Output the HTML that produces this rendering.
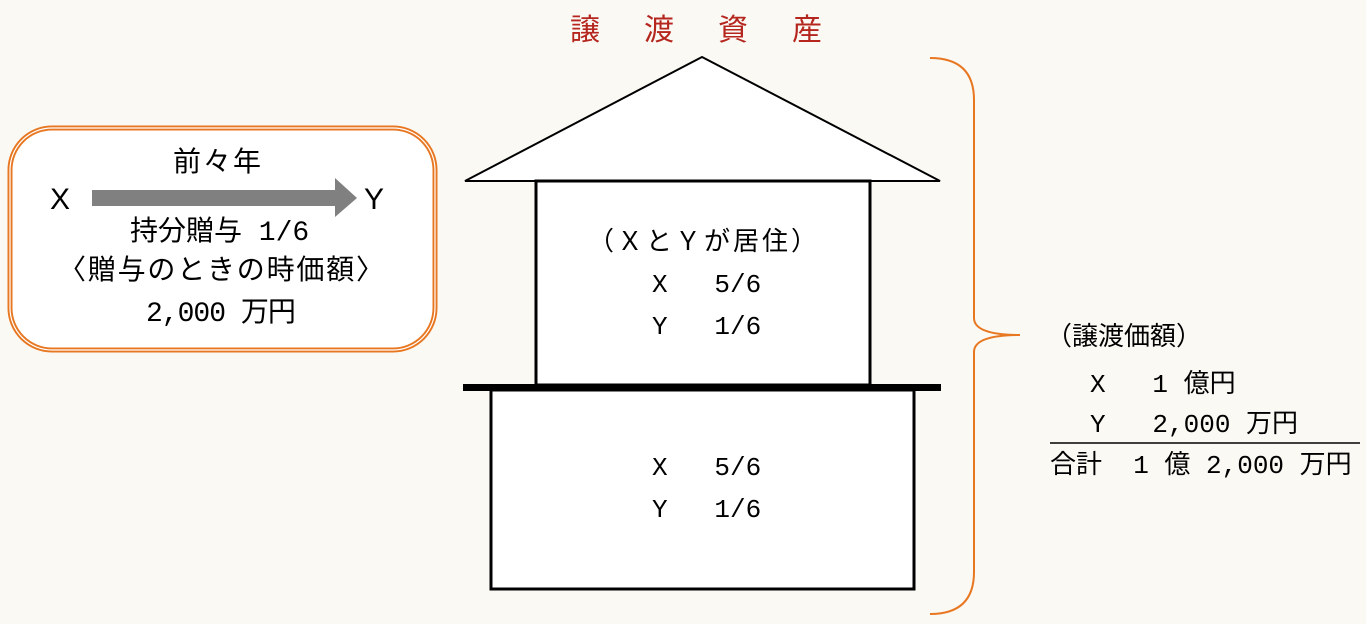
<!DOCTYPE html>
<html><head><meta charset="utf-8"><style>
body{margin:0;background:#fbf9f4;width:1366px;height:624px;overflow:hidden;position:relative;font-family:"Liberation Mono","Noto Sans CJK JP",monospace;}
.t{position:absolute;font-size:26px;color:#000;white-space:pre;line-height:1;}
.L{font-size:28px;}
</style></head><body>
<svg width="1366" height="624" style="position:absolute;left:0;top:0">
<rect x="10" y="128" width="425" height="222" rx="42" fill="#fff" stroke="#e87722" stroke-width="5"/>
<rect x="10" y="128" width="425" height="222" rx="42" fill="none" stroke="#fff" stroke-width="1.2"/>
<polygon points="92,190 335,190 335,178 357,198 335,217 335,206 92,206" fill="#808080"/>
<polygon points="702,57 465,181 940,181" fill="#fff" stroke="#000" stroke-width="2"/>
<rect x="536" y="181" width="334" height="204" fill="#fff" stroke="#000" stroke-width="3"/>
<rect x="491" y="390" width="423" height="199" fill="#fff" stroke="#000" stroke-width="3"/>
<rect x="463" y="384" width="478" height="7" fill="#000"/>
<path d="M930,58 Q974,58 974,100 L974,318 Q974,335 1020,335 Q974,335 974,352 L974,572 Q974,614 930,614" fill="none" stroke="#e87722" stroke-width="2"/>
<line x1="1050" y1="443" x2="1360" y2="443" stroke="#000" stroke-width="1.5"/>
</svg>
<div class="t" style="left:570px;top:12px;color:#b5261e;letter-spacing:44px;font-size:30px;font-family:'Noto Sans CJK JP',sans-serif">譲渡資産</div>
<div class="t L" style="left:173px;top:151px;letter-spacing:2px">前々年</div>
<div class="t" style="left:50px;top:185px;font-size:30px;font-family:'Liberation Sans',sans-serif">X</div>
<div class="t" style="left:364px;top:185px;font-size:30px;font-family:'Liberation Sans',sans-serif">Y</div>
<div class="t L" style="left:130px;top:220px">持分贈与 1/6</div>
<div class="t L" style="left:58px;top:259px;letter-spacing:1.8px">〈贈与のときの時価額〉</div>
<div class="t L" style="left:146px;top:301px;letter-spacing:-1px">2,000 万円</div>
<div class="t" style="left:588px;top:230px;letter-spacing:3px">（ＸとＹが居住）</div>
<div class="t" style="left:652px;top:272px">X   5/6</div>
<div class="t" style="left:652px;top:314px">Y   1/6</div>
<div class="t" style="left:652px;top:455px">X   5/6</div>
<div class="t" style="left:652px;top:497px">Y   1/6</div>
<div class="t" style="left:1046px;top:325px">（譲渡価額）</div>
<div class="t" style="left:1090px;top:372px">X   1 億円</div>
<div class="t" style="left:1090px;top:412px">Y   2,000 万円</div>
<div class="t" style="left:1050px;top:453px">合計  1 億 2,000 万円</div>
</body></html>
